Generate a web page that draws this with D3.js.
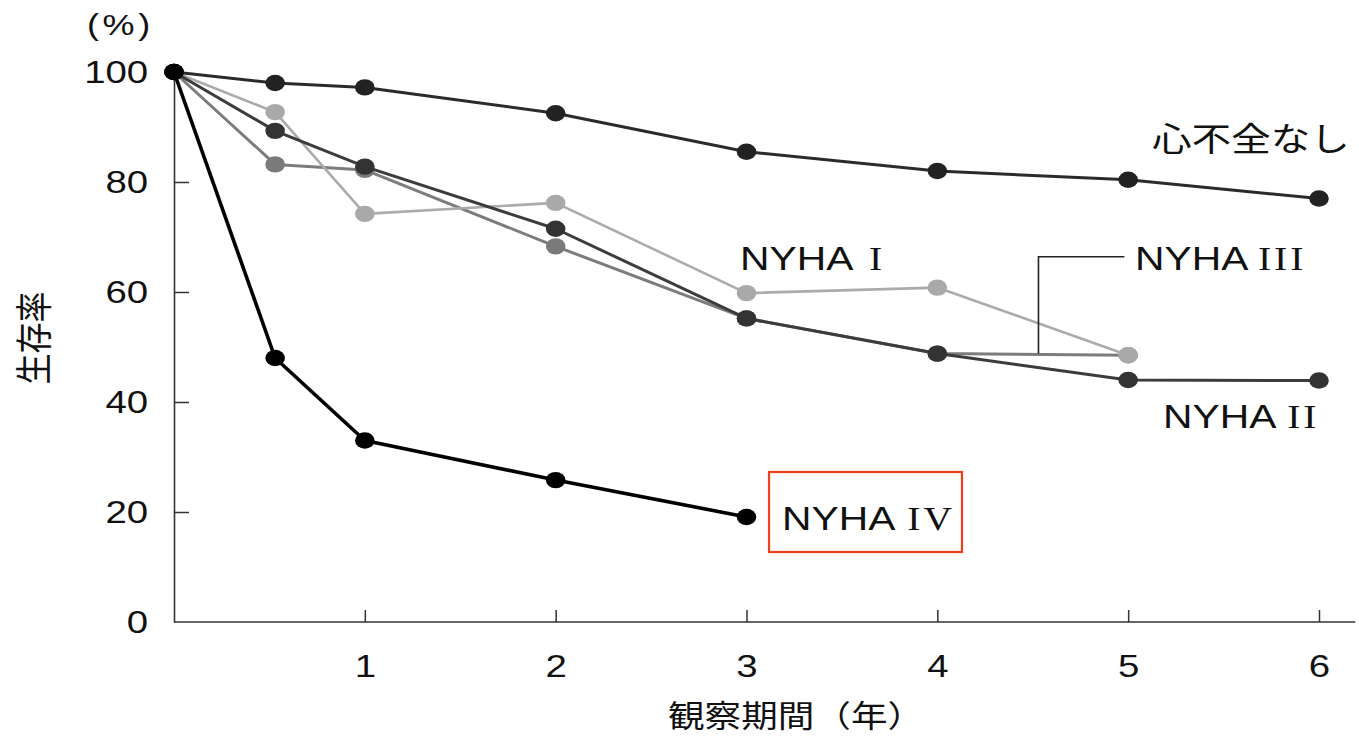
<!DOCTYPE html>
<html><head><meta charset="utf-8">
<script src="https://cdnjs.cloudflare.com/ajax/libs/d3/7.8.5/d3.min.js"></script>
<style>
html,body{margin:0;padding:0;background:#fff;}
svg{display:block;}
</style></head>
<body>
<svg id="chart" width="1359" height="739"></svg>
<script>
// ---- data ----
const years = [0, 0.53, 1, 2, 3, 4, 5, 6];
const yTicks = [0, 20, 40, 60, 80, 100];
const xTicks = [1, 2, 3, 4, 5, 6];
const noHF  = [100, 98.0, 97.2, 92.5, 85.5, 82.0, 80.4, 77.0];
const nyha1 = [100, 92.7, 74.2, 76.2, 59.8, 60.8, 48.5];
const nyha2 = [100, 89.3, 82.8, 71.5, 55.2, 48.8, 44.0, 43.9];
const nyha3 = [100, 83.2, 82.2, 68.3, 55.2, 48.8, 48.5];
const nyha4 = [100, 48.0, 33.0, 25.8, 19.1];
const seriesNames = ["NYHA III", "NYHA I", "NYHA II", "心不全なし", "NYHA IV"];
const yTitle = "生存率";
const xTitle = "観察期間（年）";
const unitLabel = "(%)";

const SX = 1.2; // horizontal stretch of the original print
const svg = d3.select("#chart");
const x = d3.scaleLinear().domain([0, 6]).range([174, 1319]);
const y = d3.scaleLinear().domain([0, 100]).range([622, 72]);
const xAxisEnd = 6.19;

const sans = "'Liberation Sans', Arial, sans-serif";
const serif = "'Liberation Serif', 'Times New Roman', serif";
const cjk = "'Noto Sans CJK JP', sans-serif";

// ---- axes ----
const yAxis = svg.append("g").attr("transform", `translate(${x(0)},0)`)
  .call(d3.axisLeft(y).tickValues(yTicks).tickSizeInner(-15).tickSizeOuter(0).tickFormat(d3.format("d")));
yAxis.select(".domain").attr("stroke", "#333").attr("stroke-width", 1.6);
yAxis.selectAll(".tick line").attr("stroke", "#333").attr("stroke-width", 1.5)
  .filter(d => d === 0 || d === 100).remove();
yAxis.selectAll(".tick text").attr("x", -21.5).attr("dy", "0.32em")
  .attr("transform", `scale(${SX},1)`)
  .style("font-family", sans).style("font-size", "32px").attr("fill", "#111");

const xAxis = svg.append("g").attr("transform", `translate(0,${y(0)})`)
  .call(d3.axisBottom(x).tickValues(xTicks).tickSizeInner(-12).tickSizeOuter(0).tickFormat(d3.format("d")));
xAxis.select(".domain").remove();
xAxis.append("line").attr("x1", x(0)).attr("x2", x(xAxisEnd)).attr("y1", 0).attr("y2", 0)
  .attr("stroke", "#333").attr("stroke-width", 1.6);
xAxis.selectAll(".tick line").attr("stroke", "#333").attr("stroke-width", 1.5);
xAxis.selectAll(".tick text").attr("y", 55).attr("dy", 0)
  .attr("transform", `scale(${SX},1)`)
  .style("font-family", sans).style("font-size", "32px").attr("fill", "#111");

// ---- titles ----
function stretchedText(px, py, str, font, size, extra) {
  const t = svg.append("text")
    .attr("transform", `translate(${px},${py}) scale(${SX},1)` + (extra || ""))
    .style("font-family", font).style("font-size", size + "px").attr("fill", "#111")
    .text(str);
  return t;
}
stretchedText(87, 35, unitLabel, sans, 30).style("letter-spacing", "3px");
stretchedText(668, 727, xTitle, cjk, 30.5);
stretchedText(32, 338, yTitle, cjk, 31, " rotate(-90)")
  .attr("text-anchor", "middle").attr("dominant-baseline", "central");

// ---- series ----
const seriesData = [nyha3, nyha1, nyha2, noHF, nyha4];
const lineColors = ["#7c7c7c", "#ababab", "#3c3c3c", "#2b2b2b", "#000000"];
const dotColors  = ["#7a7a7a", "#a9a9a9", "#333333", "#222222", "#000000"];
const lineWidths = [3, 2.6, 3, 3, 3.6];

const line = d3.line().x(d => x(d[0])).y(d => y(d[1]));
seriesData.forEach((vals, i) => {
  const pts = vals.map((v, j) => [years[j], v]);
  const g = svg.append("g").attr("class", "series").attr("data-name", seriesNames[i]);
  g.append("path").datum(pts).attr("d", line).attr("fill", "none")
    .attr("stroke", lineColors[i]).attr("stroke-width", lineWidths[i])
    .attr("stroke-linejoin", "round");
  g.selectAll("ellipse").data(pts).join("ellipse")
    .attr("cx", d => x(d[0])).attr("cy", d => y(d[1]))
    .attr("rx", 9.8).attr("ry", 8.2).attr("fill", dotColors[i]);
});

// ---- NYHA III pointer ----
svg.append("path")
  .attr("d", `M${x(4.53)},${y(48.8)} V${y(66.4)} H${x(4.98)}`)
  .attr("fill", "none").attr("stroke", "#222").attr("stroke-width", 1.6);

// ---- labels ----
function nyhaLabel(px, py, num, gap) {
  const t = svg.append("text")
    .attr("transform", `translate(${px},${py}) scale(${SX},1)`)
    .attr("fill", "#111");
  t.append("tspan").style("font-family", sans).style("font-size", "34px").text("NYHA");
  t.append("tspan").attr("dx", gap).style("font-family", serif).style("font-size", "33px")
    .style("letter-spacing", "2.5px").text(num);
  return t;
}
nyhaLabel(740, 270, "I", 13);
nyhaLabel(1135, 270, "III", 8);
nyhaLabel(1163, 428, "II", 9);
nyhaLabel(782, 530, "IV", 10);
stretchedText(1152, 151, "心不全なし", cjk, 33);

// red highlight box
svg.append("rect").attr("x", 769).attr("y", 472).attr("width", 193).attr("height", 80)
  .attr("fill", "none").attr("stroke", "#f23c1c").attr("stroke-width", 2.2);
</script>
</body></html>
